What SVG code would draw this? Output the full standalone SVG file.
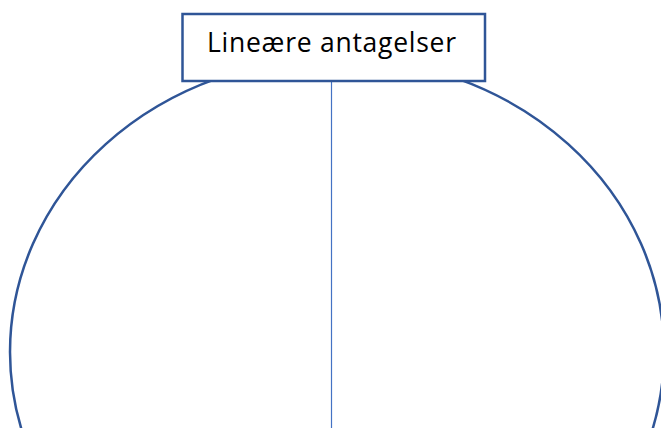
<svg xmlns="http://www.w3.org/2000/svg" width="661" height="428" viewBox="0 0 661 428">
  <style>
    .outline { fill: none; stroke: #2F5597; stroke-width: 2.5; }
    .box { fill: #FFFFFF; stroke: #2F5597; stroke-width: 2.5; }
    .conn { stroke: #4472C4; stroke-width: 1.2; fill: none; }
    .label { font-family: "Open Sans", "Noto Sans", sans-serif; font-size: 26.5px; fill: #000000; }
  </style>
  <rect width="661" height="428" fill="#FFFFFF"/>
  <g id="circle">
    <ellipse class="outline" cx="337" cy="352" rx="327" ry="294"/>
  </g>
  <g id="connectors">
    <line class="conn" x1="331.5" y1="81" x2="331.5" y2="428"/>
  </g>
  <g id="title">
    <rect class="box" x="182.5" y="14" width="302.5" height="67"/>
    <text class="label" x="207" y="52" textLength="249" lengthAdjust="spacing">Lineære antagelser</text>
  </g>
</svg>
